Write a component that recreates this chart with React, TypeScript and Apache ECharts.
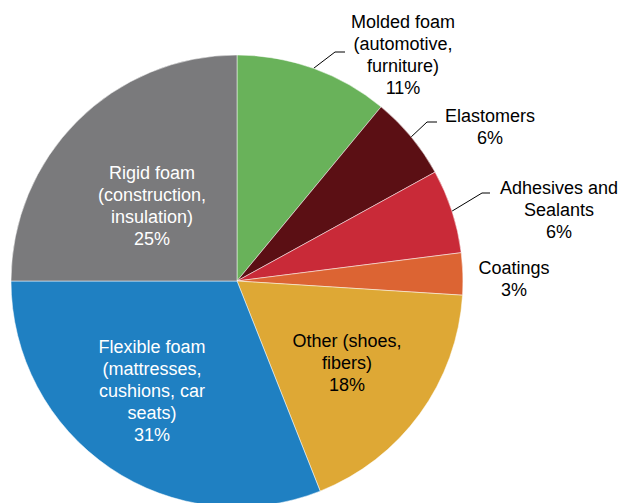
import React, { useEffect, useRef } from "react";
import * as echarts from "echarts";

const categories = [
  "Molded foam\n(automotive,\nfurniture)",
  "Elastomers",
  "Adhesives and\nSealants",
  "Coatings",
  "Other (shoes,\nfibers)",
  "Flexible foam\n(mattresses,\ncushions, car\nseats)",
  "Rigid foam\n(construction,\ninsulation)",
];
const shares = [11, 6, 6, 3, 18, 31, 25];
const colors = ["#69b25a", "#5b0f14", "#c92a38", "#dc6433", "#dea835", "#1f80c2", "#7a7a7c"];
const labelColors = ["#000", "#000", "#000", "#000", "#000", "#fff", "#fff"];

// layout (pixels): label centres and leader-line bends
const CX = 237;
const CY = 281;
const R = 226;
const labelCenters: [number, number][] = [
  [403, 55],
  [490, 127],
  [559, 210],
  [514, 279],
  [347, 363],
  [152, 391],
  [152, 206],
];
const leaderBends: ([number, number][] | null)[] = [
  [[335, 52], [345, 52]],
  [[427, 122], [437, 122]],
  [[482, 193], [490, 193]],
  null,
  null,
  null,
  null,
];

export default function App() {
  const ref = useRef<HTMLDivElement>(null);
  useEffect(() => {
    if (!ref.current) return;
    const chart = echarts.init(ref.current, null, { renderer: "svg" });
    const total = shares.reduce((a, b) => a + b, 0);
    const mids: number[] = [];
    let acc = 0;
    shares.forEach((v) => {
      mids.push(((acc + v / 2) / total) * Math.PI * 2);
      acc += v;
    });
    const data = shares.map((v, i) => ({
      name: categories[i],
      value: v,
      itemStyle: { color: colors[i] },
      label: { color: labelColors[i] },
      labelLine: { show: !!leaderBends[i] },
    }));
    chart.setOption({
      animation: false,
      backgroundColor: "#fff",
      series: [
        {
          type: "pie",
          center: [CX, CY],
          radius: R,
          startAngle: 90,
          clockwise: true,
          avoidLabelOverlap: false,
          itemStyle: { borderColor: "#fff", borderWidth: 0.5 },
          label: {
            show: true,
            position: "outside",
            formatter: (p: any) => `${p.name}\n${p.value}%`,
            fontFamily: "Liberation Sans, Arial, sans-serif",
            fontSize: 18,
            lineHeight: 22,
            align: "center",
          },
          labelLine: {
            show: true,
            length: 20,
            length2: 10,
            lineStyle: { color: "#000", width: 1 },
          },
          labelLayout: (params: any) => {
            const i = params.dataIndex;
            const c = labelCenters[i];
            const out: any = {
              x: c[0],
              y: c[1],
              align: "center",
              verticalAlign: "middle",
            };
            const bends = leaderBends[i];
            if (bends) {
              const a = mids[i];
              const start: [number, number] = [CX + R * Math.sin(a), CY - R * Math.cos(a)];
              out.labelLinePoints = [start, bends[0], bends[1]];
            }
            return out;
          },
          data,
        },
      ],
    });
    return () => chart.dispose();
  }, []);
  return (
    <div
      ref={ref}
      style={{ position: "fixed", left: 0, top: 0, width: 623, height: 503 }}
    />
  );
}
